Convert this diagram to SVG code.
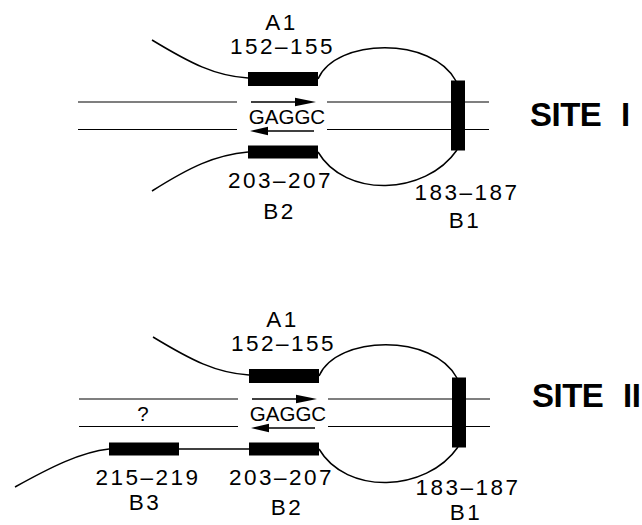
<svg xmlns="http://www.w3.org/2000/svg" width="642" height="525" viewBox="0 0 642 525">
  <style>
    .bar { fill: #000; }
    .strand { stroke: #000; stroke-width: 1.1; fill: none; }
    .curve { stroke: #000; stroke-width: 1.5; fill: none; }
    .arrow { stroke: #000; stroke-width: 1.4; fill: none; }
    .head { fill: #000; }
    .lbl { font-family: "Liberation Sans", Arial, sans-serif; font-size: 22.5px; letter-spacing: 2.5px; text-anchor: middle; fill: #000; }
    .seq { font-family: "Liberation Sans", Arial, sans-serif; font-size: 20.5px; text-anchor: middle; fill: #000; }
    .site { font-family: "Liberation Sans", Arial, sans-serif; font-size: 33px; font-weight: bold; letter-spacing: -0.5px; word-spacing: 11px; fill: #000; }
  </style>
  <defs>
    <!-- shared duplex core: strands, GAGGC arrows and the A1/B1/B2 loop -->
    <g id="duplex-strands">
      <line class="strand" x1="78" y1="102" x2="237" y2="102"/>
      <line class="strand" x1="327" y1="102" x2="489" y2="102"/>
      <line class="strand" x1="78" y1="129.5" x2="237" y2="129.5"/>
      <line class="strand" x1="327" y1="129.5" x2="489" y2="129.5"/>
    </g>
    <g id="gaggc-arrows">
      <line class="arrow" x1="251" y1="102" x2="297" y2="102"/>
      <polygon class="head" points="295,97.7 316,102 295,106.3"/>
      <line class="arrow" x1="266" y1="131" x2="314" y2="131"/>
      <polygon class="head" points="268,126.7 250,131 268,135.3"/>
    </g>
    <g id="loop-curves">
      <path class="curve" d="M152,40 C190,63 215,76 248,78"/>
      <path class="curve" d="M318,79 C336,38 432,36 456,81"/>
      <path class="curve" d="M318,152 C345,198 425,196 457,150"/>
    </g>
  </defs>

  <!-- SITE I -->
  <g id="site-1">
    <g id="site1-connectors">
      <use href="#duplex-strands"/>
      <use href="#gaggc-arrows"/>
      <use href="#loop-curves"/>
      <path class="curve" d="M152,191 C190,167 215,155 248,152"/>
    </g>
    <g id="site1-a1">
      <rect class="bar" x="248" y="72" width="70" height="14"/>
      <text class="lbl" x="281.5" y="30">A1</text>
      <text class="lbl" x="282.5" y="54.3">152–155</text>
    </g>
    <g id="site1-b2">
      <rect class="bar" x="248" y="145.5" width="70" height="13"/>
      <text class="lbl" x="280.5" y="188.3">203–207</text>
      <text class="lbl" x="279.5" y="219.3">B2</text>
    </g>
    <g id="site1-b1">
      <rect class="bar" x="451" y="80.5" width="14" height="70"/>
      <text class="lbl" x="467" y="199.5">183–187</text>
      <text class="lbl" x="465" y="227.5">B1</text>
    </g>
    <g id="site1-gaggc">
      <text class="seq" x="287" y="123.5">GAGGC</text>
    </g>
    <text class="site" x="530" y="125.7">SITE I</text>
  </g>

  <!-- SITE II -->
  <g id="site-2">
    <g transform="translate(1,297)">
      <g id="site2-connectors">
        <use href="#duplex-strands"/>
        <use href="#gaggc-arrows"/>
        <use href="#loop-curves"/>
        <line class="curve" x1="178" y1="152" x2="248" y2="152"/>
        <path class="curve" d="M14,190 C50,170 80,155 108,152"/>
      </g>
      <g id="site2-a1">
        <rect class="bar" x="248" y="72" width="70" height="14"/>
        <text class="lbl" x="281.5" y="30">A1</text>
        <text class="lbl" x="282.5" y="54.3">152–155</text>
      </g>
      <g id="site2-b2">
        <rect class="bar" x="248" y="145.5" width="70" height="13"/>
        <text class="lbl" x="280.5" y="188.3">203–207</text>
        <text class="lbl" x="286" y="218">B2</text>
      </g>
      <g id="site2-b3">
        <rect class="bar" x="108" y="145.5" width="70" height="13"/>
        <text class="lbl" x="147" y="188.3">215–219</text>
        <text class="lbl" x="144" y="212.5">B3</text>
      </g>
      <g id="site2-b1">
        <rect class="bar" x="451" y="80.5" width="14" height="70"/>
        <text class="lbl" x="467" y="198">183–187</text>
        <text class="lbl" x="465" y="222.5">B1</text>
      </g>
      <g id="site2-gaggc">
        <text class="seq" x="287" y="123.5">GAGGC</text>
        <text class="seq" x="142" y="124">?</text>
      </g>
    </g>
    <text class="site" x="532" y="407">SITE II</text>
  </g>
</svg>
